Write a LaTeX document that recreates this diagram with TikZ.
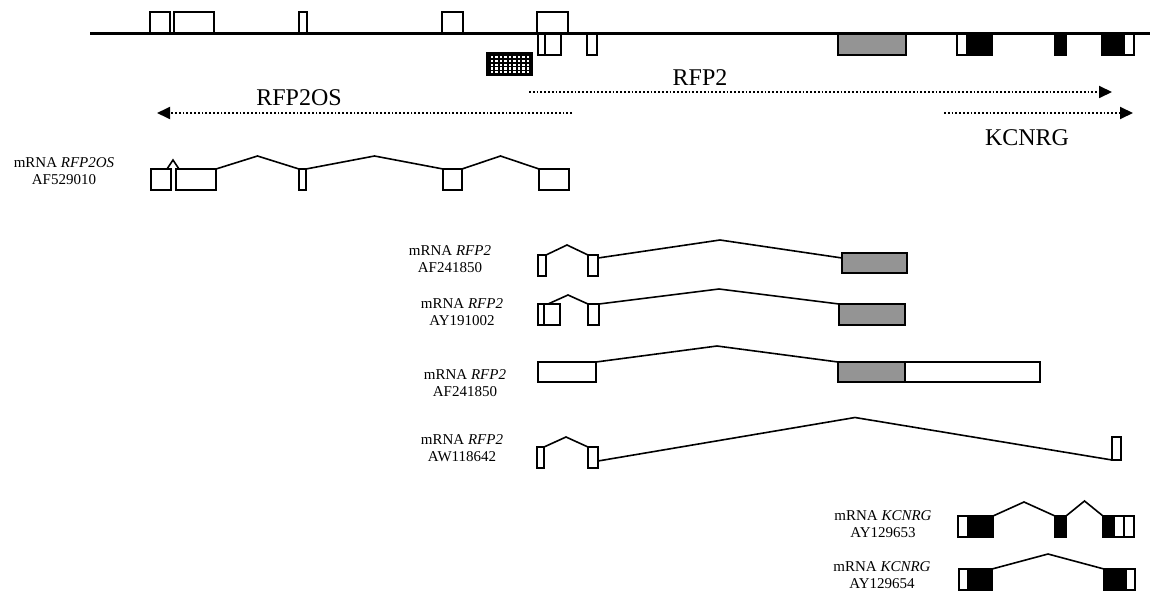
\documentclass[tikz,border=0pt]{standalone}
\usepackage{fontspec}
\setmainfont{Liberation Serif}
\usetikzlibrary{arrows.meta, calc}

% exon box: [style]{name}{left}{right}{top}{bottom}
\newcommand{\exon}[6][exon]{%
  \node[#1, minimum width={(#4-#3)*0.5pt}, minimum height={(#6-#5)*0.5pt}]
    (#2) at ({(#3+#4)/2},{(#5+#6)/2}) {};}

\begin{document}
\begin{tikzpicture}[
        x=0.5pt, y=-0.5pt,
        exon/.style={rectangle, draw, line width=0.8pt, fill=white, inner sep=0pt, outer sep=0pt},
        orf/.style={exon, fill=black!42},
        cds/.style={exon, fill=black},
        intron/.style={line width=0.8pt, to path={-- ($(\tikztostart)!0.5!(\tikztotarget)+(0,-#1)$) -- (\tikztotarget)}},
        intron/.default=16,
        genome/.style={line width=1.6pt},
        transcript/.style={densely dotted, line width=0.9pt, -{Triangle[length=6.5pt,width=6pt]}},
        big/.style={font=\fontsize{12}{14}\selectfont, inner sep=0pt},
        lbl/.style={font=\fontsize{7.5}{8.5}\selectfont, align=center, inner sep=0pt}
    ]
        \useasboundingbox (0,0) rectangle (1150,610);

        % genomic locus
        \exon{g1}{150}{170}{12}{34}
        \exon{g2}{174}{214}{12}{34}
        \exon{g3}{299}{307}{12}{34}
        \exon{g4}{442}{463}{12}{34}
        \exon{g5}{537}{568}{12}{34}
        \exon{g6}{538}{545}{34}{55}
        \exon{g7}{545}{561}{34}{55}
        \exon{g8}{587}{597}{34}{55}
        \exon[orf]{g9}{838}{906}{34}{55}
        \exon{g10}{957}{967}{34}{55}
        \exon[cds]{g11}{967}{992}{34}{55}
        \exon[cds]{g12}{1055}{1066}{34}{55}
        \exon[cds]{g13}{1102}{1124}{34}{55}
        \exon{g14}{1124}{1134}{34}{55}
        \draw[genome] (90,33.5) -- (1150,33.5);

        \exon[cds]{hatch}{487}{532}{53}{75}
        \foreach \i in {0,...,8}
            \foreach \j in {0,...,4}
                \fill[white] ({490.5+\i*4.5},{56+\j*3.8}) rectangle ++(2.6,2.2);

        \node[big] (lab-rfp) at (700,78) {RFP2};
        \node[big] (lab-os) at (299,98) {RFP2OS};
        \node[big] (lab-kc) at (1027,138) {KCNRG};
        \coordinate (rfp-a) at (529,92);
        \coordinate (rfp-b) at (1112,92);
        \coordinate (os-a) at (572,113);
        \coordinate (os-b) at (157,113);
        \coordinate (kc-a) at (944,113);
        \coordinate (kc-b) at (1133,113);
        \draw[transcript] (rfp-a) -- (rfp-b);
        \draw[transcript] (os-a) -- (os-b);
        \draw[transcript] (kc-a) -- (kc-b);

        % RFP2OS
        \node[lbl] (l0) at (64,171) {mRNA \textit{RFP2OS}\\AF529010};
        \exon{o1}{151}{171}{169}{190}
        \exon{o2}{176}{216}{169}{190}
        \exon{o3}{299}{306}{169}{190}
        \exon{o4}{443}{462}{169}{190}
        \exon{o5}{539}{569}{169}{190}
        \draw[intron=9] ($(o1.north east)+(-4,0)$) to ($(o2.north west)+(3,0)$);
        \draw[intron=13] (o2.north east) to (o3.north west);
        \draw[intron=13] (o3.north east) to (o4.north west);
        \draw[intron=13] (o4.north east) to (o5.north west);

        % RFP2 AF241850
        \node[lbl] (l1) at (450,259) {mRNA \textit{RFP2}\\AF241850};
        \exon{a1}{538}{546}{255}{276}
        \exon{a2}{588}{598}{255}{276}
        \exon[orf]{a3}{842}{907}{253}{273}
        \draw[intron=10] (a1.north east) to (a2.north west);
        \draw[intron=18] ($(a2.north east)+(0,3)$) to ($(a3.north west)+(0,5)$);

        % RFP2 AY191002
        \node[lbl] (l2) at (462,312) {mRNA \textit{RFP2}\\AY191002};
        \exon{b1}{538}{544}{304}{325}
        \exon{b2}{544}{560}{304}{325}
        \exon{b3}{588}{599}{304}{325}
        \exon[orf]{b4}{839}{905}{304}{325}
        \draw[intron=9] ($(b2.north west)+(4,0)$) to (b3.north west);
        \draw[intron=15] (b3.north east) to (b4.north west);

        % RFP2 AF241850
        \node[lbl] (l3) at (465,383) {mRNA \textit{RFP2}\\AF241850};
        \exon{c1}{538}{596}{362}{382}
        \exon[orf]{c2}{838}{905}{362}{382}
        \exon{c3}{905}{1040}{362}{382}
        \draw[intron] (c1.north east) to (c2.north west);

        % RFP2 AW118642
        \node[lbl] (l4) at (462,448) {mRNA \textit{RFP2}\\AW118642};
        \exon{d1}{537}{544}{447}{468}
        \exon{d2}{588}{598}{447}{468}
        \exon{d3}{1112}{1121}{437}{460}
        \draw[intron=10] (d1.north east) to (d2.north west);
        \draw[intron=43] ($(d2.south east)+(0,-7)$) to (d3.south west);

        % KCNRG AY129653
        \node[lbl] (l5) at (883,524) {mRNA \textit{KCNRG}\\AY129653};
        \exon{k1}{958}{968}{516}{537}
        \exon[cds]{k2}{968}{993}{516}{537}
        \exon[cds]{k3}{1055}{1066}{516}{537}
        \exon[cds]{k4}{1103}{1114}{516}{537}
        \exon{k5}{1114}{1124}{516}{537}
        \exon{k6}{1124}{1134}{516}{537}
        \draw[intron=14] (k2.north east) to (k3.north west);
        \draw[intron=15] (k3.north east) to (k4.north west);

        % KCNRG AY129654
        \node[lbl] (l6) at (882,575) {mRNA \textit{KCNRG}\\AY129654};
        \exon{m1}{959}{968}{569}{590}
        \exon[cds]{m2}{968}{992}{569}{590}
        \exon[cds]{m3}{1104}{1126}{569}{590}
        \exon{m4}{1126}{1135}{569}{590}
        \draw[intron=15] (m2.north east) to (m3.north west);
    \end{tikzpicture}
\end{document}
